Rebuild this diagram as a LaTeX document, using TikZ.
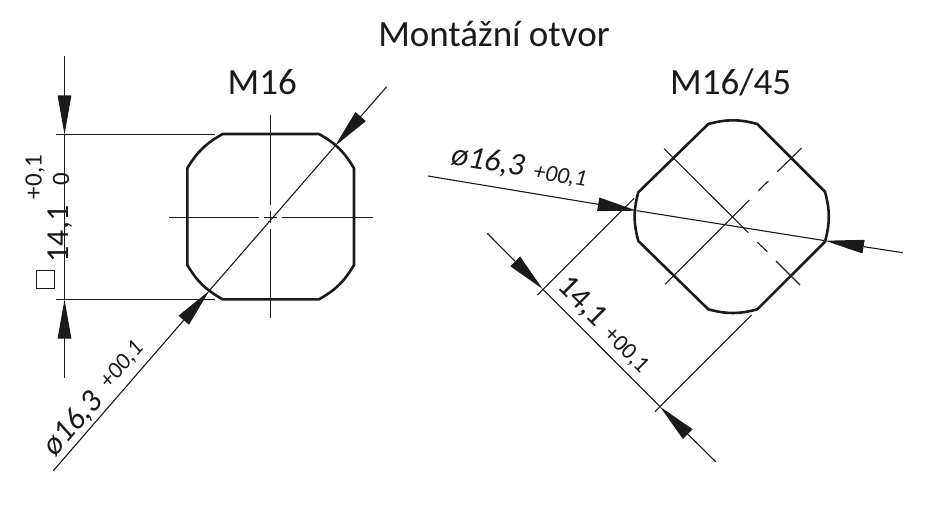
\documentclass[tikz,border=0pt]{standalone}
\usepackage{fontspec}
\setmainfont{Carlito}
\usetikzlibrary{arrows.meta}
\definecolor{inkcol}{HTML}{1A1A1A}

\begin{document}
\begin{tikzpicture}[x=1pt, y=-1pt,
  every node/.style={text=inkcol, inner sep=0pt},
  outline/.style={draw=inkcol, line width=2.6pt, line join=round},
  thinline/.style={draw=inkcol, line width=1.1pt},
  dimline/.style={thinline, -{Triangle[length=39pt, width=13.5pt]}},
  corner/.style={bend left=15},
  bigtext/.style={font=\fontsize{37}{44}\selectfont},
  midtext/.style={font=\fontsize{32}{38}\selectfont},
  slanttext/.style={font=\itshape\fontsize{32}{38}\selectfont},
  smalltext/.style={font=\fontsize{25}{30}\selectfont},
  tolertext/.style={font=\fontsize{23.5}{28}\selectfont},
  tolerslant/.style={font=\itshape\fontsize{23.5}{28}\selectfont},
]
  \useasboundingbox (0,0) rectangle (937,505);

  \node[bigtext] (title) at (494,34.5) {Montážní otvor};
  \node[bigtext] (nameL) at (262.3,82.5) {M16};
  \node[bigtext] (nameR) at (730.7,82.5) {M16/45};

  % left hole
  \draw[outline] (222.7,134) -- (319,134) to[corner] (354,168.3) -- (354,265)
    to[corner] (319,299.3) -- (222.7,299.3) to[corner] (187.3,265) -- (187.3,168.3)
    to[corner] (222.7,134) -- cycle;

  \foreach \xa/\xb in {169/258.7, 264.3/276.7, 282/372.7}
    \draw[thinline] (\xa,217.5) -- (\xb,217.5);
  \foreach \ya/\yb in {115/205, 211.3/223.3, 229.5/318.3}
    \draw[thinline] (270.5,\ya) -- (270.5,\yb);

  \coordinate (topA) at (64.5,56);
  \coordinate (topB) at (64.5,134.5);
  \coordinate (botA) at (64.5,378);
  \coordinate (botB) at (64.5,299.5);
  \coordinate (extT) at (215,134.5);
  \coordinate (extB) at (215,299.5);
  \draw[thinline] (56,134.5) -- (extT);
  \draw[thinline] (56,299.5) -- (extB);
  \draw[thinline] (topB) -- (botB);
  \draw[dimline] (topA) -- (topB);
  \draw[dimline] (botA) -- (botB);

  \coordinate (diaA) at (386.7,86.7);
  \coordinate (diaB) at (335,146);
  \coordinate (diaC) at (53.3,470.7);
  \coordinate (diaD) at (209.3,290.7);
  \draw[thinline] (diaB) -- (diaD);
  \draw[dimline] (diaA) -- (diaB);
  \draw[dimline] (diaC) -- (diaD);

  \node[draw=inkcol, line width=0.8pt, minimum size=18pt] (squaresym) at (45.7,279.5) {};
  \node[midtext, rotate=90] (sizeL) at (60,234) {14,1};
  \node[smalltext, rotate=90] (upperL) at (35,177) {+0,1};
  \node[smalltext, rotate=90] (lowerL) at (61,179) {0};
  \node[slanttext, rotate=49] (diamL) at (73,424) {ø16,3};
  \node[tolerslant, rotate=49] (tolL) at (122,365) {+00,1};

  % right hole
  \draw[outline] (708.3,124) to[corner] (757.3,124) -- (825,191.7) to[corner] (825,241.7)
    -- (757.3,309.3) to[corner] (708.3,309.3) -- (638.3,241) to[corner] (638.3,192.3)
    -- (708.3,124) -- cycle;

  \draw[thinline] (664,148.7) -- (748.3,232.7);
  \draw[thinline] (757.3,242.3) -- (767.3,251.7);
  \draw[thinline] (776,261) -- (800,285);
  \draw[thinline] (665,284.3) -- (749.3,200);
  \draw[thinline] (758.3,190.7) -- (768.3,181);
  \draw[thinline] (777.3,171.7) -- (801.7,148);

  \coordinate (chordA) at (428,176);
  \coordinate (chordB) at (636.7,210.7);
  \coordinate (chordC) at (902.7,252.7);
  \coordinate (chordD) at (825,240.7);
  \draw[thinline] (chordB) -- (chordD);
  \draw[dimline] (chordA) -- (chordB);
  \draw[dimline] (chordC) -- (chordD);

  \coordinate (slotA) at (487.3,233.3);
  \coordinate (slotB) at (542.7,289);
  \coordinate (slotC) at (715.7,461.7);
  \coordinate (slotD) at (660,406.7);
  \draw[thinline] (634,198.3) -- (537.3,295);
  \draw[thinline] (751.7,315) -- (655,411.7);
  \draw[thinline] (slotB) -- (slotD);
  \draw[dimline] (slotA) -- (slotB);
  \draw[dimline] (slotC) -- (slotD);

  \node[slanttext, rotate=-9] (diamR) at (488,161.5) {ø16,3};
  \node[tolerslant, rotate=-9] (tolR) at (560,176.5) {+00,1};
  \node[midtext, rotate=-45] (sizeR) at (582,302) {14,1};
  \node[tolertext, rotate=-45] (tolS) at (626,350.5) {+00,1};
\end{tikzpicture}
\end{document}
